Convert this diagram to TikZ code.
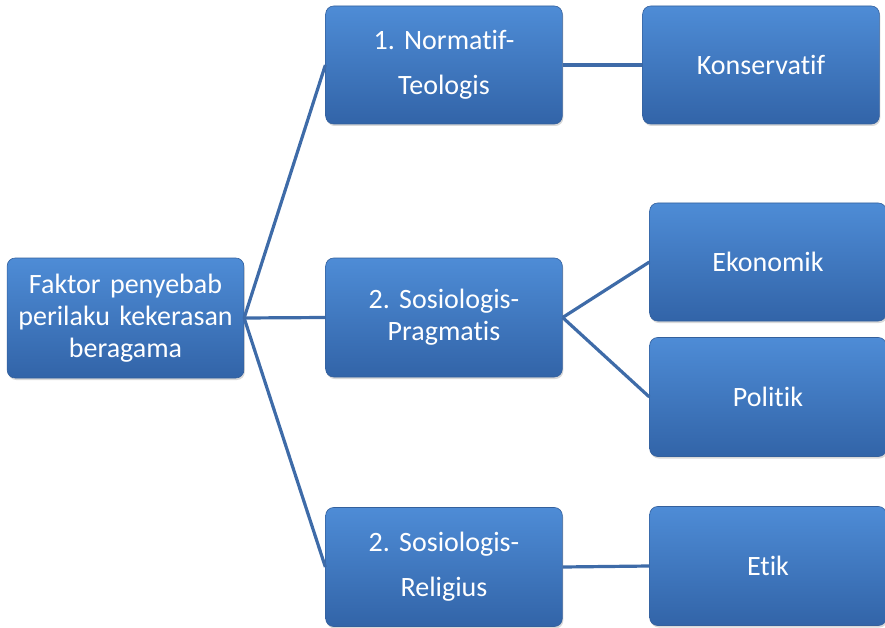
\documentclass[tikz,border=0pt]{standalone}
\usepackage{fontspec}
\setmainfont[RawFeature={-liga;-dlig;-clig}]{Carlito}
\usetikzlibrary{shadows}
\definecolor{boxtop}{RGB}{78,140,214}
\definecolor{boxbot}{RGB}{50,100,168}
\definecolor{boxline}{RGB}{52,96,156}
\definecolor{conn}{RGB}{62,107,168}
\begin{document}
\frenchspacing
\begin{tikzpicture}[x=1pt,y=1pt,
  box/.style={rectangle, rounded corners=8pt, minimum width=235pt, text width=230pt, align=center,
    top color=boxtop, bottom color=boxbot, draw=boxline, line width=0.6pt,
    text=white, font=\fontsize{28}{32}\selectfont,
    drop shadow={opacity=0.3, shadow xshift=1pt, shadow yshift=-2pt}},
  wide/.style={font=\fontsize{28}{45}\selectfont},
  link/.style={draw=conn, line width=3.2pt}]
\useasboundingbox (0,0) rectangle (885,-628);
\node[box, minimum height=120pt] (root) at (125.5,-318) {Faktor penyebab\\perilaku kekerasan\\beragama};
\node[box, wide, minimum height=118pt] (m1) at (444,-65) {1. Normatif-\\Teologis};
\node[box, minimum height=119pt] (m2) at (444,-317.5) {2. Sosiologis-\\Pragmatis};
\node[box, wide, minimum height=119pt] (m3) at (444,-567) {2. Sosiologis-\\Religius};
\node[box, minimum height=118pt] (r1) at (761,-65) {Konservatif};
\node[box, minimum height=118pt] (r2) at (768,-262) {Ekonomik};
\node[box, minimum height=119pt] (r3) at (768,-397) {Politik};
\node[box, minimum height=119pt] (r4) at (768,-566) {Etik};
\draw[link] (root.east) -- (m1.west);
\draw[link] (root.east) -- (m2.west);
\draw[link] (root.east) -- (m3.west);
\draw[link] (m1.east) -- (r1.west);
\draw[link] (m2.east) -- (r2.west);
\draw[link] (m2.east) -- (r3.west);
\draw[link] (m3.east) -- (r4.west);
\end{tikzpicture}
\end{document}
